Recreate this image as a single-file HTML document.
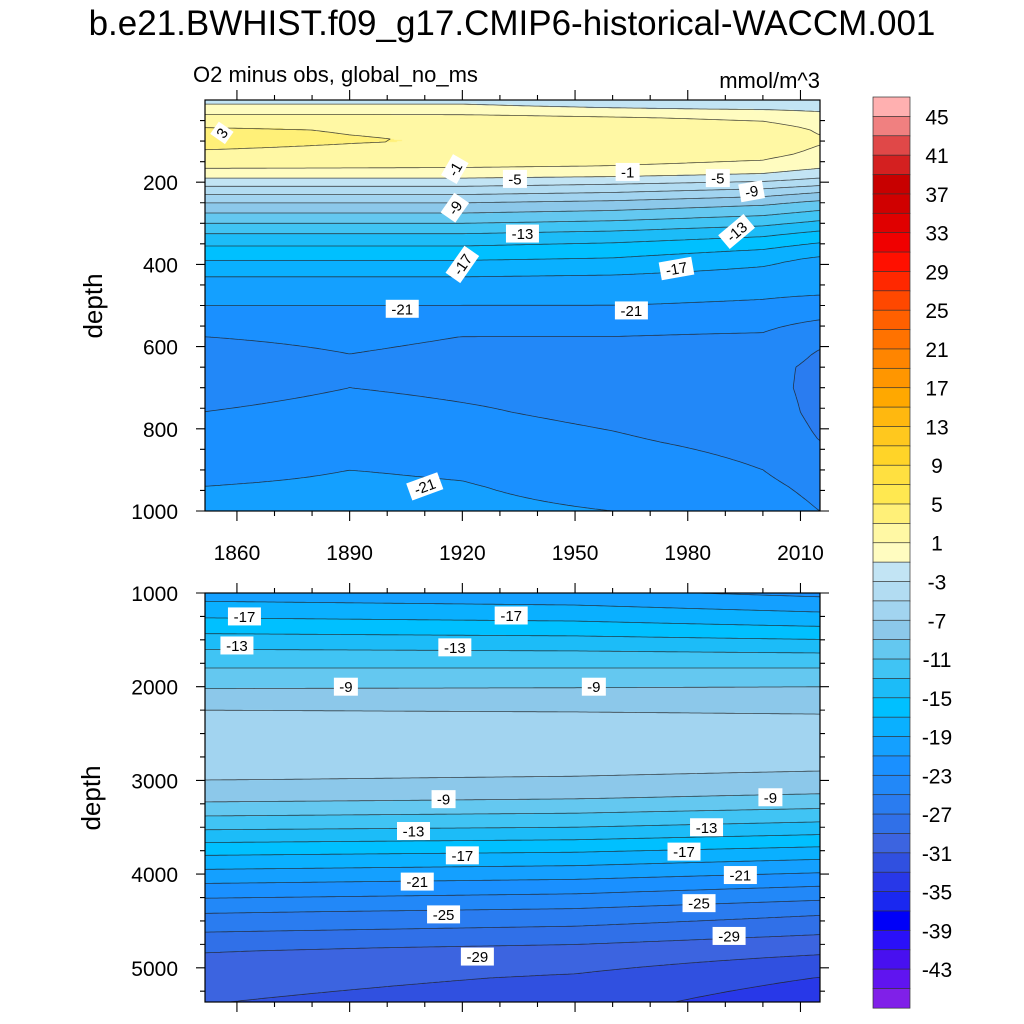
<!DOCTYPE html>
<html><head><meta charset="utf-8"><style>
html,body{margin:0;padding:0;background:#fff;}
#wrap{position:relative;width:1024px;height:1024px;overflow:hidden;font-family:"Liberation Sans",sans-serif;}
canvas,svg{position:absolute;left:0;top:0;}
</style></head><body>
<div id="wrap">
<canvas id="cv" width="1024" height="1024"></canvas>
<svg id="sv" width="1024" height="1024" xmlns="http://www.w3.org/2000/svg">
<text x="512" y="35" text-anchor="middle" font-size="35" fill="#000">b.e21.BWHIST.f09_g17.CMIP6-historical-WACCM.001</text>
<text x="193" y="82" font-size="22" fill="#000">O2 minus obs, global_no_ms</text>
<text x="820" y="88" text-anchor="end" font-size="22" fill="#000">mmol/m^3</text>
<text transform="translate(102,306) rotate(-90)" text-anchor="middle" font-size="26">depth</text>
<text transform="translate(100,798) rotate(-90)" text-anchor="middle" font-size="26">depth</text>
<g id="gTop"></g><g id="gBot"></g><g id="gBar"></g>
</svg>
</div>
<script>
const levelColors=['#8020e8','#6014f0','#4810f0','#2a10f8','#0000f8','#1a28f0','#2838e8','#3050e0','#3c64e0','#3070e8','#2a7cf0','#2288f8','#1a90ff','#14a0ff','#0ab0ff','#00c0ff','#1cbcf8','#40c4f4','#64c8f0','#8cc8ea','#a2d4f0','#b2dcf2','#c2e4f4','#fffcc0','#fff8a4','#fff078','#ffe850','#ffe040','#ffd428','#ffc81e','#ffb80f','#ffa800','#ff9600','#ff8500','#ff7200','#ff6000','#ff4800','#ff2800','#ff1000','#f00000','#e00000','#d00000','#c80000','#d42020','#e04848','#f08080','#ffb0b0'];
const topYears=[1850,1890,1920,1960,2000,2015];
const topDepths=[0,20,40,70,100,130,160,185,200,225,250,275,300,325,355,390,430,475,500,535,575,620,650,700,760,805,830,900,940,1000];
const top1850=[-1.5,-0.5,1.5,3.2,3.5,2.8,1.5,-0.5,-2,-4.5,-7,-9,-11,-13,-15,-17,-19,-20.3,-21,-22,-23,-23.7,-24,-23.8,-23,-22.6,-22.4,-21.6,-21,-20.5];
const top1890=[-1.5,-0.5,1.5,2.9,3.1,2.6,1.4,-0.5,-2,-4.5,-7,-9,-11,-13,-15,-17,-19,-20.3,-21,-22,-22.6,-23.02,-23.1,-23,-22.4,-22,-21.8,-21,-20.7,-20.5];
const top1920=[-1.5,-0.5,1.4,2.8,2.9,2.4,1.3,-0.5,-2,-4.5,-7,-9,-11,-13,-15,-17,-19,-20.3,-21,-22.2,-23,-23.4,-23.5,-23.3,-22.8,-22.4,-22.2,-21.2,-20.9,-20.6];
const top1960=[-2,-1,1,2.4,2.6,2.1,1,-0.8,-2.5,-5,-7.5,-9.5,-11.5,-13.5,-15.5,-17.3,-19.2,-20.4,-21,-22.2,-23,-23.5,-23.7,-23.6,-23.4,-23,-22.8,-22,-21.6,-21];
const top2000=[-2.3,-1.3,0.5,1.8,2.2,1.6,0.5,-1.5,-3.2,-6,-8.5,-10.5,-12.5,-14.5,-16.5,-18.5,-19.8,-20.8,-21.3,-22.3,-23.2,-23.8,-24.3,-24.3,-24,-23.7,-23.5,-23,-22.6,-22];
const top2015=[-2.5,-1.5,-0.3,0.8,1.2,0.6,-0.5,-2.5,-4,-7,-9.5,-11.5,-13.5,-15.5,-17.5,-19.5,-20.3,-21,-21.8,-23,-24.5,-25.2,-25.5,-25.6,-25.5,-25.2,-25,-24,-23.5,-23];
const botYears=[1850,1950,2015];
const botDepths=[1000,1300,1600,1800,2000,2200,2500,2800,3000,3200,3500,3800,4100,4400,4800,5100,5400];
const bot1850=[-20,-16.6,-13,-11,-9.2,-7.2,-6,-6.2,-7,-8.6,-12.6,-17,-21,-24.8,-28.8,-30.2,-31];
const bot1950=[-20.5,-17,-13.2,-11,-9.1,-7.3,-6,-6.3,-7.2,-9,-13,-17.5,-21.6,-25.4,-29.5,-31.2,-32.2];
const bot2015=[-21.5,-17.8,-13.5,-11,-9,-7.4,-6.1,-6.5,-7.5,-9.6,-13.8,-18.4,-22.6,-26.6,-30.5,-33,-34.5];
const xTicks=[1860,1890,1920,1950,1980,2010];
const topYTicks=[200,400,600,800,1000];
const botYTicks=[1000,2000,3000,4000,5000];
const barLabels=[45,41,37,33,29,25,21,17,13,9,5,1,-3,-7,-11,-15,-19,-23,-27,-31,-35,-39,-43];
const topLabels=[["3",1856,80,-55],["-1",1918,168,-60],["-1",1964,175,0],["-5",1934,192,0],["-9",1918,262,-55],["-13",1936,325,0],["-17",1920,400,-55],["-21",1904,508,0],["-5",1988,190,0],["-9",1997,222,-10],["-13",1993,320,-40],["-17",1977,410,-10],["-21",1965,512,0],["-21",1910,940,-20]];
const botLabels=[["-17",1862,1250],["-17",1933,1240],["-13",1860,1560],["-13",1918,1580],["-9",1889,2000],["-9",1955,2000],["-9",1915,3200],["-9",2002,3180],["-13",1907,3540],["-13",1985,3500],["-17",1920,3800],["-17",1979,3760],["-21",1908,4080],["-21",1994,4010],["-25",1915,4430],["-25",1983,4310],["-29",1924,4880],["-29",1991,4660]];

const X0=205,X1=820,YR0=1851.5,YR1=2015.2;
const xs=y=>X0+(y-YR0)*(X1-X0)/(YR1-YR0);
const yTopS=d=>100+d*0.411;
const yBotS=d=>593+(d-1000)*0.0937;
const TOP={y0:100,y1:511,ys:yTopS,dinv:py=>(py-100)/0.411,years:topYears,depths:topDepths,prof:[top1850,top1890,top1920,top1960,top2000,top2015]};
const BOT={y0:593,y1:1002,ys:yBotS,dinv:py=>1000+(py-593)/0.0937,years:botYears,depths:botDepths,prof:[bot1850,bot1950,bot2015]};
function interp(arr,xsA,x){if(x<=xsA[0])return {i:0,t:0};for(let i=0;i<xsA.length-1;i++){if(x<=xsA[i+1])return {i,t:(x-xsA[i])/(xsA[i+1]-xsA[i])};}return {i:xsA.length-2,t:1};}
function val(P,yr,d){const a=interp(null,P.years,yr),b=interp(null,P.depths,d);
 const p0=P.prof[a.i],p1=P.prof[a.i+1];
 const v0=p0[b.i]+(p0[b.i+1]-p0[b.i])*b.t, v1=p1[b.i]+(p1[b.i+1]-p1[b.i])*b.t;
 return v0+(v1-v0)*a.t;}
const yrOfX=px=>YR0+(px-X0)*(YR1-YR0)/(X1-X0);
function hex(c){return [parseInt(c.slice(1,3),16),parseInt(c.slice(3,5),16),parseInt(c.slice(5,7),16)];}
const rgb=levelColors.map(hex);
const cidx=v=>Math.max(0,Math.min(46,Math.floor((v+47)/2)));
const ctx=document.getElementById('cv').getContext('2d');
function fill(P){const w=X1-X0,h=P.y1-P.y0;const im=ctx.createImageData(w,h);
 for(let j=0;j<h;j++){const d=P.dinv(P.y0+j+0.5);for(let i=0;i<w;i++){const v=val(P,yrOfX(X0+i+0.5),d);const c=rgb[cidx(v)];const k=(j*w+i)*4;im.data[k]=c[0];im.data[k+1]=c[1];im.data[k+2]=c[2];im.data[k+3]=255;}}
 ctx.putImageData(im,X0,P.y0);}
fill(TOP);fill(BOT);
const NS='http://www.w3.org/2000/svg';
function mk(tag,attrs,parent){const e=document.createElementNS(NS,tag);for(const k in attrs)e.setAttribute(k,attrs[k]);parent.appendChild(e);return e;}
function contours(P,g,name){const nx=Math.round((X1-X0)/3),ny=Math.round((P.y1-P.y0)/3);const dx=(X1-X0)/nx,dy=(P.y1-P.y0)/ny;
 const G=[];for(let j=0;j<=ny;j++){G.push([]);const d=P.dinv(P.y0+j*dy);for(let i=0;i<=nx;i++)G[j].push(val(P,yrOfX(X0+i*dx),d));}
 let s='';
 for(let L=-45;L<=45;L+=2){for(let j=0;j<ny;j++)for(let i=0;i<nx;i++){
  const c=[G[j][i],G[j][i+1],G[j+1][i+1],G[j+1][i]];const px=[[i,j],[i+1,j],[i+1,j+1],[i,j+1]];const pts=[];
  for(let e=0;e<4;e++){const a=c[e],b=c[(e+1)%4];if((a<L)!==(b<L)){const t=(L-a)/(b-a);const p=px[e],q=px[(e+1)%4];pts.push([X0+(p[0]+(q[0]-p[0])*t)*dx,P.y0+(p[1]+(q[1]-p[1])*t)*dy]);}}
  for(let k=0;k+1<pts.length;k+=2)s+='M'+pts[k][0].toFixed(1)+' '+pts[k][1].toFixed(1)+'L'+pts[k+1][0].toFixed(1)+' '+pts[k+1][1].toFixed(1);}}
 const p=mk('path',{d:s,stroke:'#222',"stroke-width":0.8,fill:'none',"stroke-opacity":0.8},g);
 
 }
const gT=document.getElementById('gTop'),gB=document.getElementById('gBot'),gBar=document.getElementById('gBar');
contours(TOP,gT,'top-contour-lines');contours(BOT,gB,'bottom-contour-lines');
function labels(P,arr,g){arr.forEach(l=>{const x=xs(l[1]),y=P.ys(l[2]),r=l[3]||0;const w=l[0].length*9+6;
 const gg=mk('g',{transform:`translate(${x},${y}) rotate(${r})`},g);
 
 
 mk('rect',{x:-w/2,y:-9,width:w,height:18,fill:'#fff'},gg);
 const t=mk('text',{x:0,y:5.5,"text-anchor":"middle","font-size":15},gg);t.textContent=l[0];});}
labels(TOP,topLabels,gT);labels(BOT,botLabels,gB);
function frame(P,g,yt,minorStep,d0,d1,showX,nm){
 const r=mk('rect',{x:X0,y:P.y0,width:X1-X0,height:P.y1-P.y0,fill:'none',stroke:'#000',"stroke-width":1.2},g);
 
 
 let s='';
 for(let yr=1860;yr<=2010;yr+=10){const x=xs(yr);const maj=(yr-1860)%30==0;const L=maj?10:5;s+=`M${x} ${P.y1}v${L}M${x} ${P.y0}v${-L}`;}
 for(let d=d0;d<=d1;d+=minorStep){const y=P.ys(d);const maj=yt.includes(d);const L=maj?9:5;s+=`M${X0} ${y}h${-L}M${X1} ${y}h${L}`;}
 const tk=mk('path',{d:s,stroke:'#000',"stroke-width":1.1,fill:'none'},g);
 
 
 yt.forEach(d=>{const t=mk('text',{x:X0-27,y:P.ys(d)+8,"text-anchor":"end","font-size":21},g);t.textContent=d;
  
  });
 if(showX)xTicks.forEach(yr=>{const t=mk('text',{x:xs(yr),y:P.y1+49,"text-anchor":"middle","font-size":21},g);t.textContent=yr;
  
  });}
frame(TOP,gT,topYTicks,50,50,1000,true,'top');
frame(BOT,gB,botYTicks,250,1000,5250,false,'bottom');
const BX=873,BW=37,BT=97,BH=19.38;
for(let i=0;i<47;i++){const r=mk('rect',{x:BX,y:BT+i*BH,width:BW,height:BH+0.3,fill:levelColors[46-i],stroke:'#333',"stroke-width":0.7},gBar);
 
 }
barLabels.forEach(v=>{const i=(45-v)/2;const t=mk('text',{x:937,y:BT+(i+1)*BH+8,"text-anchor":"middle","font-size":21},gBar);t.textContent=v;
 
 });
</script>
</body></html>
